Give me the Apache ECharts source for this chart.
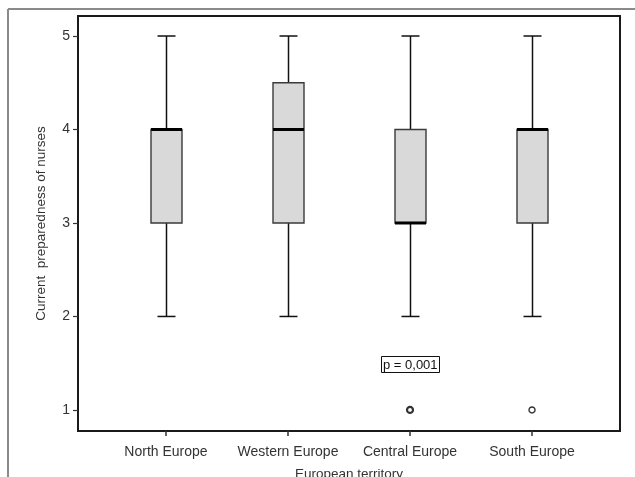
<!DOCTYPE html>
<html>
<head>
<meta charset="utf-8">
<script src="https://cdn.jsdelivr.net/npm/echarts@6/dist/echarts.min.js"></script>
<style>
html,body{margin:0;padding:0;background:#fff;}
#chart{width:635px;height:477px;}
</style>
</head>
<body>
<div id="chart"></div>
<script>
// Data
const categories = ['North Europe', 'Western Europe', 'Central Europe', 'South Europe'];
const whiskerLow = [2, 2, 2, 2];
const q1 = [3, 3, 3, 3];
const median = [4, 4, 3, 4];
const q3 = [4, 4.5, 4, 4];
const whiskerHigh = [5, 5, 5, 5];
const outlierCategory = [2, 3];
const outlierValue = [1, 1];
const yTicks = [1, 2, 3, 4, 5];
const pLabel = 'p = 0,001';

const FONT = '"Liberation Sans", Arial, sans-serif';
const boxData = categories.map((c, i) => [i, whiskerLow[i], q1[i], median[i], q3[i], whiskerHigh[i]]);
const outlierData = outlierCategory.map((c, i) => ({
  value: [c, outlierValue[i]],
  itemStyle: { borderWidth: i === 0 ? 2.2 : 1.4 }
}));

const chart = echarts.init(document.getElementById('chart'), null, { renderer: 'canvas' });

function renderBox(params, api) {
  const x = api.value(0);
  const lo = api.coord([x, api.value(1)]);
  const b1 = api.coord([x, api.value(2)]);
  const med = api.coord([x, api.value(3)]);
  const b3 = api.coord([x, api.value(4)]);
  const hi = api.coord([x, api.value(5)]);
  const cx = Math.round(lo[0]) + 0.5;
  const halfW = 15.5;
  const capW = 9;
  const lineStyle = { stroke: '#111', lineWidth: 1.5 };
  return {
    type: 'group',
    children: [
      { type: 'line', shape: { x1: cx, y1: lo[1], x2: cx, y2: b1[1] }, style: lineStyle },
      { type: 'line', shape: { x1: cx, y1: b3[1], x2: cx, y2: hi[1] }, style: lineStyle },
      { type: 'line', shape: { x1: cx - capW, y1: lo[1], x2: cx + capW, y2: lo[1] }, style: lineStyle },
      { type: 'line', shape: { x1: cx - capW, y1: hi[1], x2: cx + capW, y2: hi[1] }, style: lineStyle },
      { type: 'rect', shape: { x: cx - halfW, y: b3[1], width: halfW * 2, height: b1[1] - b3[1] },
        style: { fill: '#d9d9d9', stroke: '#3a3a3a', lineWidth: 1.4 } },
      { type: 'line', shape: { x1: cx - halfW, y1: med[1], x2: cx + halfW, y2: med[1] },
        style: { stroke: '#000', lineWidth: 3 } }
    ]
  };
}

chart.setOption({
  backgroundColor: '#fff',
  animation: false,
  title: {
    text: pLabel,
    left: 381,
    top: 356,
    padding: [1, 2, 0, 2],
    borderColor: '#111',
    borderWidth: 1,
    textStyle: { fontFamily: FONT, fontSize: 13, fontWeight: 'normal', color: '#111', lineHeight: 16 }
  },
  graphic: [
    { type: 'line', shape: { x1: 8, y1: 9, x2: 635, y2: 9 }, style: { stroke: '#8a8a8a', lineWidth: 2 } },
    { type: 'line', shape: { x1: 8, y1: 9, x2: 8, y2: 477 }, style: { stroke: '#8a8a8a', lineWidth: 2 } }
  ],
  grid: {
    left: 78, right: 15, top: 16, bottom: 46,
    containLabel: false,
    outerBoundsMode: 'none',
    show: true, borderColor: '#1a1a1a', borderWidth: 2, backgroundColor: 'transparent'
  },
  xAxis: {
    type: 'value',
    min: -0.721,
    max: 3.721,
    name: 'European territory',
    nameLocation: 'middle',
    nameGap: 36,
    nameTextStyle: { fontFamily: FONT, fontSize: 13.5, color: '#333' },
    splitLine: { show: false },
    axisLine: { show: true, onZero: false, lineStyle: { color: '#1a1a1a', width: 2 } },
    axisTick: { show: true, length: 5, customValues: [0, 1, 2, 3], lineStyle: { color: '#333', width: 1.5 } },
    axisLabel: {
      customValues: [0, 1, 2, 3],
      margin: 14,
      fontFamily: FONT, fontSize: 14, color: '#333',
      formatter: v => categories[Math.round(v)] || ''
    }
  },
  yAxis: {
    type: 'value',
    min: 0.775,
    max: 5.214,
    name: 'Current  preparedness of nurses',
    nameLocation: 'middle',
    nameGap: 30,
    nameTextStyle: { fontFamily: FONT, fontSize: 13.5, color: '#333' },
    splitLine: { show: false },
    axisLine: { show: true, onZero: false, lineStyle: { color: '#1a1a1a', width: 2 } },
    axisTick: { show: true, length: 5, customValues: yTicks, lineStyle: { color: '#333', width: 1.2 } },
    axisLabel: { customValues: yTicks, margin: 8, fontFamily: FONT, fontSize: 14, color: '#333' }
  },
  series: [
    {
      type: 'custom',
      renderItem: renderBox,
      data: boxData,
      encode: { x: 0, y: [1, 2, 3, 4, 5] },
      clip: false
    },
    {
      type: 'scatter',
      data: outlierData,
      symbol: 'circle',
      symbolSize: 6,
      itemStyle: { color: '#fff', borderColor: '#000', borderWidth: 1.5 }
    }
  ]
});
</script>
</body>
</html>
